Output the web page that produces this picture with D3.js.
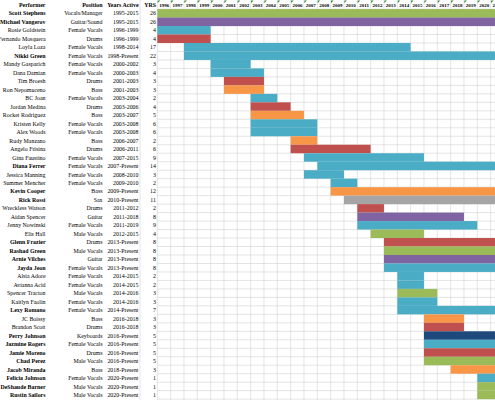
<!DOCTYPE html>
<html><head><meta charset="utf-8">
<script src="https://cdn.jsdelivr.net/npm/d3@7"></script>
<style>body{margin:0;background:#fff}svg{display:block}</style>
</head><body>
<script>
const performers = ["Scott Stephens","Michael Vangerov","Rosie Goldstein","Fernando Mosquera","Loyla Loza","Nikki Green","Mandy Gasparich","Dana Damian","Tim Broesh","Ron Nepomuceno","BC Joan","Jordan Medina","Rocket Rodriguez","Kristen Kelly","Alex Woods","Rudy Manzano","Angelo Frisina","Gina Faustino","Diana Ferrer","Jessica Manning","Summer Mencher","Kevin Cooper","Rick Rossi","Wreckless Watson","Aidan Spencer","Jenny Nowinski","Elis Hall","Glenn Frazier","Rashad Green","Arnie Vilches","Jayda Jeon","Alsia Adore","Avianna Acid","Spencer Tracton","Kaitlyn Faolin","Lexy Romano","JC Boissy","Brandon Scott","Perry Johnson","Jazmine Rogers","Jamie Moreno","Chad Perez","Jacob Miranda","Felicia Johnson","DeShaude Barner","Rustin Sailors"];
const positions = ["Vocals/Manager","Guitar/Sound","Female Vocals","Drums","Female Vocals","Female Vocals","Female Vocals","Female Vocals","Drums","Bass","Female Vocals","Drums","Bass","Female Vocals","Female Vocals","Bass","Drums","Female Vocals","Female Vocals","Female Vocals","Female Vocals","Bass","Sax","Drums","Guitar","Female Vocals","Male Vocals","Drums","Male Vocals","Guitar","Female Vocals","Female Vocals","Female Vocals","Male Vocals","Female Vocals","Female Vocals","Bass","Drums","Keyboards","Female Vocals","Drums","Male Vocals","Bass","Female Vocals","Male Vocals","Male Vocals"];
const yearsActive = ["1995-2015","1995-2015","1996-1999","1996-1999","1998-2014","1998-Present","2000-2002","2000-2003","2001-2003","2001-2003","2003-2004","2003-2006","2003-2007","2003-2008","2003-2008","2006-2007","2006-2011","2007-2015","2007-Present","2008-2010","2009-2010","2009-Present","2010-Present","2011-2012","2011-2018","2011-2019","2012-2015","2013-Present","2013-Present","2013-Present","2013-Present","2014-2015","2014-2015","2014-2016","2014-2016","2014-Present","2016-2018","2016-2018","2016-Present","2016-Present","2016-Present","2016-Present","2018-Present","2020-Present","2020-Present","2020-Present"];
const yrs = [26,26,4,4,17,22,3,4,3,3,2,4,5,6,6,2,6,9,14,3,2,12,11,2,8,9,4,8,8,8,8,2,2,3,3,7,3,3,5,5,5,5,3,1,1,1];
const boldRows = ["Scott Stephens","Michael Vangerov","Nikki Green","Diana Ferrer","Kevin Cooper","Rick Rossi","Glenn Frazier","Rashad Green","Arnie Vilches","Jayda Jeon","Lexy Romano","Perry Johnson","Jazmine Rogers","Jamie Moreno","Chad Perez","Jacob Miranda","Felicia Johnson","DeShaude Barner","Rustin Sailors"];
// bar spans as drawn in the chart (first and last year column filled)
const barStart = [1996,1996,1996,1996,1998,1998,2000,2000,2001,2001,2003,2003,2003,2003,2003,2006,2006,2007,2008,2007,2009,2009,2010,2011,2011,2011,2012,2013,2013,2013,2013,2014,2014,2014,2014,2014,2016,2016,2016,2016,2016,2016,2018,2020,2020,2020];
const barEnd = [2021,2021,1999,1999,2014,2021,2002,2003,2003,2003,2004,2005,2006,2007,2007,2007,2011,2015,2021,2009,2010,2021,2021,2012,2018,2019,2015,2021,2021,2021,2021,2015,2015,2016,2016,2021,2018,2018,2021,2021,2021,2021,2021,2021,2021,2021];
const years = ["1996","1997","1998","1999","2000","2001","2002","2003","2004","2005","2006","2007","2008","2009","2010","2011","2012","2013","2014","2015","2016","2017","2018","2019","2020","2021"];
const positionNames = ["Vocals/Manager","Guitar/Sound","Guitar","Female Vocals","Male Vocals","Drums","Bass","Sax","Keyboards"];
const positionColors = ["#9BBB59","#8064A2","#8064A2","#4BACC6","#9BBB59","#C0504D","#F79646","#A5A5A5","#1F497D"];

const W = 495, H = 400;
const svg = d3.select("body").append("svg").attr("width", W).attr("height", H);
const font = "'Liberation Serif','Times New Roman',serif";
const headerH = 9.07, rowH = 8.48, colW = 13.333, x0 = 157.3;
const fs = 5.9;

const x = d3.scaleLinear().domain([1996, 1996 + years.length]).range([x0, x0 + years.length * colW]);
const y = d3.scaleBand().domain(performers).range([headerH, headerH + performers.length * rowH]);
const color = d3.scaleOrdinal().domain(positionNames).range(positionColors);

const rows = performers.map((p, i) => ({name: p, pos: positions[i], ya: yearsActive[i], yrs: yrs[i], s: barStart[i], e: barEnd[i], bold: boldRows.includes(p)}));

// grid
const grid = svg.append("g").attr("stroke", "#d9d9d9").attr("stroke-width", 0.7);
d3.range(1996, 1996 + years.length + 1).forEach(yr => {
  grid.append("line").attr("x1", x(yr)).attr("x2", x(yr)).attr("y1", 0).attr("y2", H);
});
d3.range(performers.length + 1).forEach(i => {
  const yy = headerH + i * rowH;
  grid.append("line").attr("x1", x0).attr("x2", W).attr("y1", yy).attr("y2", yy);
});
grid.append("line").attr("x1", 140).attr("x2", 140).attr("y1", 0).attr("y2", H);

// bars
svg.append("g").selectAll("rect").data(rows).join("rect")
  .attr("x", d => x(d.s))
  .attr("y", d => y(d.name))
  .attr("width", d => x(d.e + 1) - x(d.s))
  .attr("height", y.bandwidth())
  .attr("fill", d => color(d.pos));

// header
const hdr = svg.append("g").attr("font-family", font).attr("font-weight", "bold").attr("font-size", fs).attr("fill", "#000");
const hy = headerH / 2 + 2.1;
hdr.append("text").attr("x", 45.5).attr("y", hy).attr("text-anchor", "end").text("Performer");
hdr.append("text").attr("x", 102.5).attr("y", hy).attr("text-anchor", "end").text("Position");
hdr.append("text").attr("x", 138.5).attr("y", hy).attr("text-anchor", "end").text("Years Active");
hdr.append("text").attr("x", 156).attr("y", hy).attr("text-anchor", "end").text("YRS");

// year header via axis
const axis = d3.axisTop(x).tickValues(d3.range(1996, 1996 + years.length)).tickFormat((d, i) => years[i]).tickSize(0);
const ag = svg.append("g").attr("transform", `translate(0,${hy - 2})`).call(axis);
ag.select(".domain").remove();
ag.selectAll("text").attr("font-family", font).attr("font-weight", "bold").attr("font-size", 5)
  .attr("text-anchor", "start").attr("dx", 1.4).attr("dy", 0).attr("y", 2).attr("fill", "#000");
// small green indicators
svg.append("g").selectAll("path").data(d3.range(1996, 1996 + years.length)).join("path")
  .attr("d", d => `M${x(d)+0.4},0.4 h2.6 L${x(d)+0.4},3 Z`).attr("fill", "#3a8a3a");

// table text
const tbl = svg.append("g").attr("font-family", font).attr("font-size", fs).attr("fill", "#000");
const rowG = tbl.selectAll("g").data(rows).join("g")
  .attr("transform", d => `translate(0,${y(d.name) + y.bandwidth() / 2 + 2.1})`);
rowG.append("text").attr("x", 45.5).attr("text-anchor", "end").attr("font-weight", d => d.bold ? "bold" : "normal").text(d => d.name);
rowG.append("text").attr("x", 102.5).attr("text-anchor", "end").text(d => d.pos);
rowG.append("text").attr("x", 138.5).attr("text-anchor", "end").text(d => d.ya);
rowG.append("text").attr("x", 156).attr("text-anchor", "end").text(d => d.yrs);
</script>
</body></html>
